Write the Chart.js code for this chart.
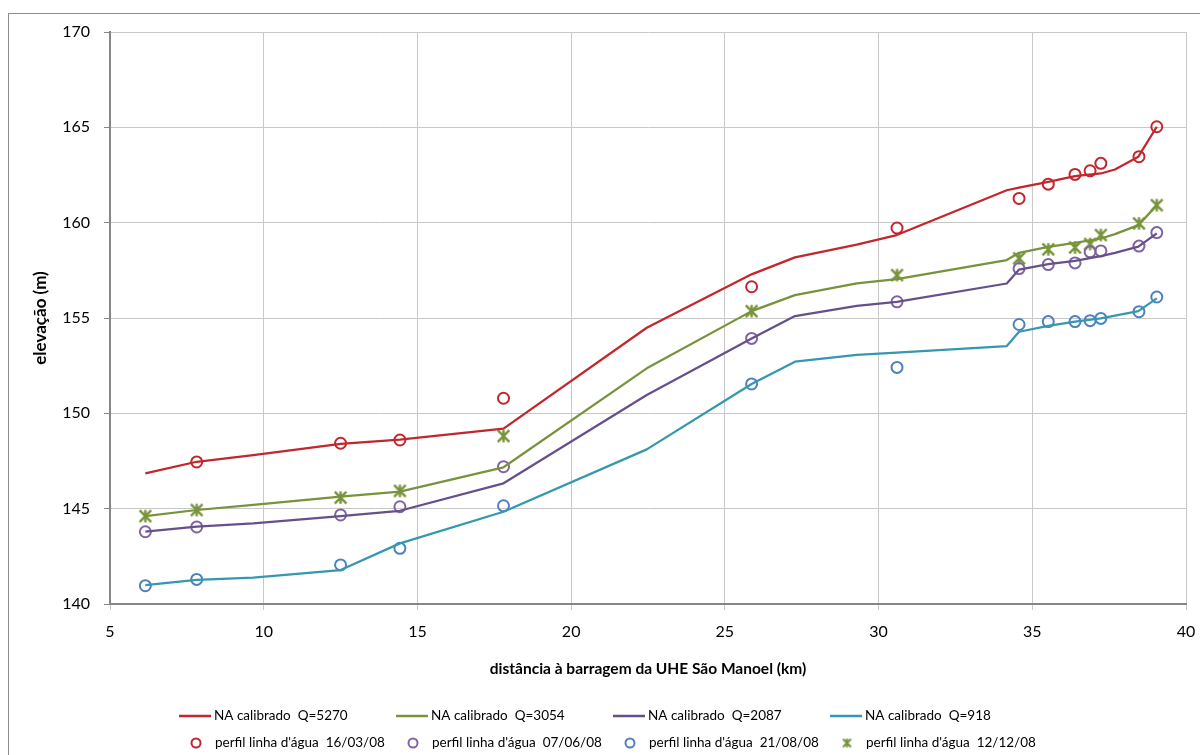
<!DOCTYPE html>
<html>
<head>
<meta charset="utf-8">
<script src="https://cdn.jsdelivr.net/npm/chart.js@4"></script>
<style>
  html, body { margin: 0; padding: 0; background: #ffffff; }
  #wrap { width: 1200px; height: 755px; position: relative; }
</style>
</head>
<body>
<div id="wrap"><canvas id="c" width="1200" height="755"></canvas></div>
<script>
// Distance from the dam (km) at the model's cross-sections
const lineKm = [6.15, 7.82, 9.66, 12.5, 14.43, 17.8, 22.46, 25.87, 27.28, 29.29, 30.59, 34.17, 34.57, 35.52, 36.39, 37.23, 37.69, 38.45, 39.05];
// Calibrated water levels (m) for each discharge
const naQ5270 = [146.85, 147.46, 147.81, 148.4, 148.62, 149.2, 154.49, 157.29, 158.18, 158.85, 159.35, 161.7, 161.84, 162.14, 162.44, 162.58, 162.79, 163.46, 165.03];
const naQ3054 = [144.61, 144.93, 145.2, 145.63, 145.89, 147.17, 152.36, 155.36, 156.2, 156.82, 157.04, 158.04, 158.42, 158.73, 158.94, 159.17, 159.4, 159.87, 160.92];
const naQ2087 = [143.79, 144.06, 144.23, 144.61, 144.89, 146.33, 150.96, 153.93, 155.1, 155.64, 155.85, 156.81, 157.54, 157.83, 158.0, 158.25, 158.42, 158.74, 159.44];
const naQ918  = [140.99, 141.26, 141.38, 141.78, 143.18, 144.84, 148.11, 151.54, 152.71, 153.06, 153.18, 153.53, 154.28, 154.59, 154.81, 154.98, 155.12, 155.36, 156.03];

// Gauged stations (km) and surveyed water-surface profiles (m)
const obsKm = [6.15, 7.82, 12.5, 14.43, 17.8, 25.87, 30.6, 34.57, 35.52, 36.39, 36.88, 37.23, 38.47, 39.05];
const perfil160308 = [null, 147.45, 148.43, 148.6, 150.79, 156.64, 159.72, 161.27, 162.02, 162.53, 162.72, 163.11, 163.46, 165.03];
const perfil070608 = [143.79, 144.04, 144.67, 145.1, 147.2, 153.93, 155.85, 157.59, 157.8, 157.89, 158.47, 158.52, 158.77, 159.48];
const perfil210808 = [140.96, 141.29, 142.05, 142.92, 145.15, 151.54, 152.41, 154.66, 154.81, 154.81, 154.86, 154.98, 155.33, 156.1];
const perfil121208 = [144.61, 144.93, 145.58, 145.93, 148.81, 155.36, 157.25, 158.13, 158.6, 158.7, 158.88, 159.35, 159.96, 160.92];

const seriesNames = [
  'NA calibrado  Q=5270', 'NA calibrado  Q=3054', 'NA calibrado  Q=2087', 'NA calibrado  Q=918',
  "perfil linha d'água  16/03/08", "perfil linha d'água  07/06/08", "perfil linha d'água  21/08/08", "perfil linha d'água  12/12/08"
];

const xTicks = [5, 10, 15, 20, 25, 30, 35, 40];
const yTicks = [140, 145, 150, 155, 160, 165, 170];

const FONT = 'Lato, "Open Sans", "DejaVu Sans", sans-serif';

function pairs(xs, ys) {
  return xs.map((x, i) => ({ x: x, y: ys[i] }));
}

// asterisk marker: an X crossed by a vertical stroke
function starMarker(size, color, width) {
  const c = document.createElement('canvas');
  c.width = size; c.height = size;
  const g = c.getContext('2d');
  g.strokeStyle = color; g.lineWidth = width; g.lineCap = 'butt';
  const m = width / 2 + 0.5, s = size - m;
  g.beginPath();
  g.moveTo(m, m); g.lineTo(s, s);
  g.moveTo(s, m); g.lineTo(m, s);
  g.moveTo(size / 2, m - 0.5); g.lineTo(size / 2, s + 0.5);
  g.stroke();
  return c;
}
const star = starMarker(15, '#77933C', 2.4);
const starSmall = starMarker(11, '#77933C', 2);

function lineSet(label, ys, color) {
  return {
    label: label, data: pairs(lineKm, ys), showLine: true, borderColor: color,
    backgroundColor: color, borderWidth: 2.25, pointRadius: 0, pointHoverRadius: 0, tension: 0
  };
}
function markSet(label, ys, color) {
  return {
    label: label, data: pairs(obsKm, ys), showLine: false, borderColor: color,
    backgroundColor: 'rgba(0,0,0,0)', borderWidth: 2, pointRadius: 5.5, pointStyle: 'circle'
  };
}

const datasets = [
  lineSet(seriesNames[0], naQ5270, '#C1272D'),
  lineSet(seriesNames[1], naQ3054, '#77933C'),
  lineSet(seriesNames[2], naQ2087, '#66508C'),
  lineSet(seriesNames[3], naQ918, '#3597B0'),
  markSet(seriesNames[4], perfil160308, '#C0272D'),
  markSet(seriesNames[5], perfil070608, '#8064A2'),
  markSet(seriesNames[6], perfil210808, '#4F81BD'),
  Object.assign(markSet(seriesNames[7], perfil121208, '#77933C'), { pointStyle: star, pointRadius: 7.5 })
];

// outer frame of the chart object and a two-row legend grid
const decor = {
  id: 'decor',
  beforeDraw(chart) {
    const ctx = chart.ctx;
    ctx.save();
    ctx.strokeStyle = '#8C8C8C';
    ctx.lineWidth = 1;
    ctx.strokeRect(8.5, 13.5, 1400, 1000);
    ctx.restore();
  },
  afterDraw(chart) {
    const ctx = chart.ctx;
    ctx.save();
    ctx.font = '13.5px ' + FONT;
    ctx.textBaseline = 'middle';
    ctx.fillStyle = '#000';
    chart.data.datasets.forEach((ds, i) => {
      const col = i % 4, row = Math.floor(i / 4);
      const x0 = 179 + col * 217;
      const y = 716 + row * 27;
      if (ds.showLine) {
        ctx.strokeStyle = ds.borderColor;
        ctx.lineWidth = 2.5;
        ctx.beginPath();
        ctx.moveTo(x0, y); ctx.lineTo(x0 + 32, y);
        ctx.stroke();
        ctx.fillText(ds.label, x0 + 35, y);
      } else {
        const cx = x0 + 17;
        if (ds.pointStyle === 'circle') {
          ctx.strokeStyle = ds.borderColor;
          ctx.lineWidth = 2;
          ctx.beginPath();
          ctx.arc(cx, y, 4.5, 0, Math.PI * 2);
          ctx.stroke();
        } else {
          ctx.drawImage(starSmall, cx - 5.5, y - 5.5);
        }
        ctx.fillText(ds.label, x0 + 36, y);
      }
    });
    ctx.restore();
  }
};

new Chart(document.getElementById('c'), {
  type: 'scatter',
  data: { datasets: datasets },
  plugins: [decor],
  options: {
    responsive: false,
    devicePixelRatio: 1,
    animation: false,
    layout: { padding: { top: 32, right: 14, bottom: 71, left: 0 } },
    plugins: { legend: { display: false }, tooltip: { enabled: false } },
    elements: { line: { borderJoinStyle: 'round' } },
    scales: {
      x: {
        type: 'linear', min: 5, max: 40,
        afterBuildTicks(s) { s.ticks = xTicks.map(v => ({ value: v })); },
        afterFit(s) { s.height = 80; s.paddingLeft = 0; s.paddingRight = 0; },
        grid: { color: '#C8C8C8', lineWidth: 1, tickLength: 6, tickColor: '#C8C8C8' },
        border: { color: '#868686', width: 2 },
        ticks: { color: '#000', font: { family: FONT, size: 16 }, padding: 12, maxRotation: 0 },
        title: { display: true, text: 'distância à barragem da UHE São Manoel (km)', color: '#000',
                 font: { family: FONT, size: 15.5, weight: 'bold' }, padding: { top: 0, bottom: 6 } }
      },
      y: {
        type: 'linear', min: 140, max: 170,
        afterBuildTicks(s) { s.ticks = yTicks.map(v => ({ value: v })); },
        afterFit(s) { s.width = 110; s.paddingTop = 0; s.paddingBottom = 0; },
        grid: { color: '#C8C8C8', lineWidth: 1, tickLength: 6, tickColor: '#868686' },
        border: { color: '#868686', width: 2 },
        ticks: { color: '#000', font: { family: FONT, size: 16 }, padding: 14 },
        title: { display: true, text: 'elevação (m)', color: '#000',
                 font: { family: FONT, size: 17, weight: 'bold' }, padding: { top: 30, bottom: 0 } }
      }
    }
  }
});
</script>
</body>
</html>
